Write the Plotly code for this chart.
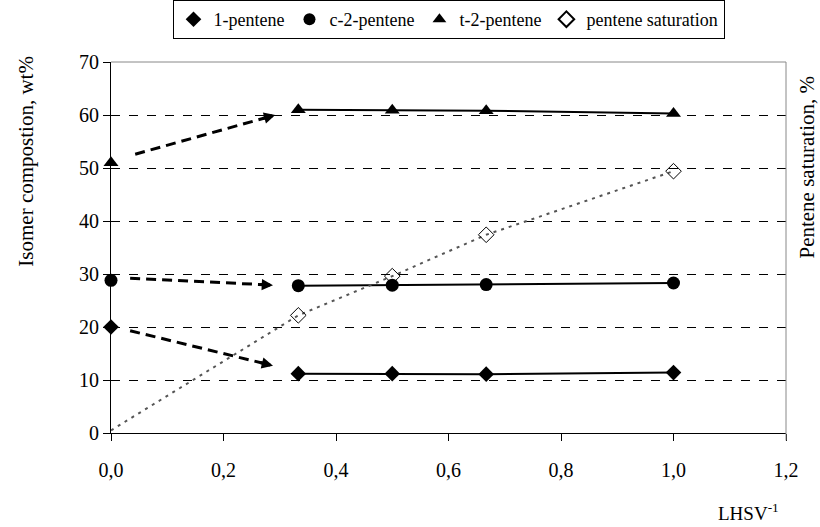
import plotly.graph_objects as go

# Data
x_feed = [0.0]
x_lhsv = [0.333, 0.5, 0.667, 1.0]
p1_feed = [20.0]
c2_feed = [28.8]
t2_feed = [51.0]
p1 = [11.2, 11.2, 11.1, 11.4]
c2 = [27.8, 27.9, 28.0, 28.3]
t2 = [61.0, 60.9, 60.8, 60.3]
sat_x = [0.0, 0.333, 0.5, 0.667, 1.0]
sat = [0.5, 22.2, 29.6, 37.4, 49.4]

# arrows (start, end) in data coords
arrow_t2 = ([0.043, 0.292], [52.6, 60.0])
arrow_c2 = ([0.034, 0.288], [29.2, 27.9])
arrow_p1 = ([0.034, 0.288], [19.3, 12.7])

font = "Liberation Serif"
fig = go.Figure()

series = [
    ("1-pentene", p1_feed, p1, "diamond", 12),
    ("c-2-pentene", c2_feed, c2, "circle", 13),
    ("t-2-pentene", t2_feed, t2, "triangle-up", 13),
]
for name, feed, vals, sym, sz in series:
    fig.add_trace(go.Scatter(x=x_feed, y=feed, mode="markers", name=name,
                             marker=dict(symbol=sym, size=sz, color="black"),
                             cliponaxis=False))
for name, feed, vals, sym, sz in series:
    fig.add_trace(go.Scatter(x=x_lhsv, y=vals, mode="lines+markers", showlegend=False,
                             line=dict(color="black", width=2),
                             marker=dict(symbol=sym, size=sz, color="black"),
                             cliponaxis=False))

fig.add_trace(go.Scatter(x=sat_x, y=sat, mode="lines", showlegend=False,
                         line=dict(color="#555555", width=2, dash="3px,5px")))
fig.add_trace(go.Scatter(x=sat_x[1:], y=sat[1:], mode="markers", name="pentene saturation",
                         marker=dict(symbol="diamond-open", size=12, color="black",
                                     line=dict(width=1, color="black"))))

annotations = [
    dict(text="Isomer compostion, wt%", xref="paper", yref="paper", x=-0.126, y=0.734,
         xanchor="center", yanchor="middle",
         showarrow=False, textangle=-90, font=dict(size=21, family=font)),
    dict(text="Pentene saturation, %", xref="paper", yref="paper", x=1.031, y=0.718,
         xanchor="center", yanchor="middle",
         showarrow=False, textangle=-90, font=dict(size=21, family=font)),
    dict(text="LHSV<sup>-1</sup>", xref="paper", yref="paper", x=0.944, y=-0.213,
         xanchor="center", yanchor="middle",
         showarrow=False, font=dict(size=19, family=font)),
]

for ax_, ay_ in [arrow_t2, arrow_c2, arrow_p1]:
    fig.add_trace(go.Scatter(x=[ax_[0], ax_[0] + 0.95 * (ax_[1] - ax_[0])],
                             y=[ay_[0], ay_[0] + 0.95 * (ay_[1] - ay_[0])],
                             mode="lines", showlegend=False,
                             line=dict(color="black", width=3, dash="10px,6px")))
    annotations.append(dict(
        x=ax_[1], y=ay_[1], xref="x", yref="y", axref="x", ayref="y",
        ax=ax_[0] + 0.9 * (ax_[1] - ax_[0]), ay=ay_[0] + 0.9 * (ay_[1] - ay_[0]),
        text="", showarrow=True, arrowhead=2, arrowsize=0.75, arrowwidth=3,
        arrowcolor="black", standoff=0, startstandoff=0))

fig.update_layout(
    width=820, height=527,
    margin=dict(l=111, r=34, t=57, b=94),
    paper_bgcolor="white", plot_bgcolor="white",
    font=dict(family=font, size=20, color="black"),
    separators=",.",
    showlegend=True,
    legend=dict(orientation="h", x=0.5, xanchor="center", y=1.0, yanchor="top",
                yref="container", font=dict(size=18, family=font), bordercolor="black",
                borderwidth=1, itemwidth=30, traceorder="normal", tracegroupgap=0,
                itemsizing="constant"),
    xaxis=dict(range=[0, 1.2], dtick=0.2, tickformat=".1f", showgrid=False,
               showline=True, linecolor="black", linewidth=1, ticks="outside",
               ticklen=7, tickcolor="black", ticklabelstandoff=12, zeroline=False,
               tickfont=dict(size=20, family=font)),
    yaxis=dict(range=[0, 70], dtick=10, showgrid=True, gridcolor="black", griddash="dash",
               gridwidth=1, showline=True, linecolor="black", linewidth=1, ticks="outside",
               ticklen=7, tickcolor="black", zeroline=False,
               tickfont=dict(size=20, family=font)),
    shapes=[dict(type="line", xref="paper", yref="paper", x0=1, x1=1, y0=-0.02, y1=1,
                 line=dict(color="#888888", width=1)),
            dict(type="line", xref="paper", yref="paper", x0=0, x1=1, y0=1, y1=1,
                 line=dict(color="#888888", width=1))],
    annotations=annotations,
)

fig.write_html("out.html")
